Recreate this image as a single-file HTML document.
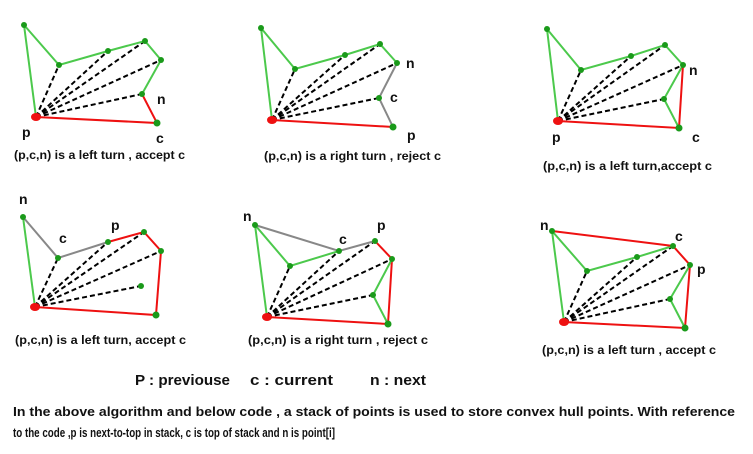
<!DOCTYPE html>
<html><head><meta charset="utf-8"><style>
html,body{margin:0;padding:0;background:#fff;}
svg{display:block;}
text{font-family:"Liberation Sans",sans-serif;font-weight:bold;fill:#111;}
.g{stroke:#4cc94c;stroke-width:2;fill:none;}
.r{stroke:#ee1111;stroke-width:2;fill:none;}
.y{stroke:#888;stroke-width:2;fill:none;}
.d{stroke:#000;stroke-width:2;stroke-dasharray:5,3;}
.pt{fill:#1a9a1a;}
.P{fill:#ee1111;}
</style></head><body>
<svg width="753" height="454" viewBox="0 0 753 454" xmlns="http://www.w3.org/2000/svg">
<!-- Panel 1 -->
<g>
<line class="d" x1="36" y1="117" x2="59" y2="65"/><line class="d" x1="36" y1="117" x2="108" y2="51"/><line class="d" x1="36" y1="117" x2="145" y2="41"/><line class="d" x1="36" y1="117" x2="161" y2="60"/><line class="d" x1="36" y1="117" x2="142" y2="94"/>
<polyline class="g" points="36,117 24,25 59,65 108,51 145,41 161,60 142,94"/>
<polyline class="r" points="142,94 157,123 36,117"/>
<circle class="pt" cx="24" cy="25" r="3"/><circle class="pt" cx="59" cy="65" r="3"/><circle class="pt" cx="108" cy="51" r="3"/><circle class="pt" cx="145" cy="41" r="3"/><circle class="pt" cx="161" cy="60" r="3"/><circle class="pt" cx="142" cy="94" r="3"/><circle class="pt" cx="157" cy="123" r="3.5"/><ellipse class="P" cx="36" cy="117" rx="5" ry="4"/>
<text x="157" y="104" font-size="14">n</text><text x="22" y="137" font-size="14">p</text><text x="156" y="143" font-size="14">c</text>
<text x="14" y="159" font-size="12" textLength="171" lengthAdjust="spacingAndGlyphs">(p,c,n) is a left turn , accept c</text>
</g>
<!-- Panel 2 -->
<g>
<line class="d" x1="272" y1="120" x2="295" y2="69"/><line class="d" x1="272" y1="120" x2="345" y2="55"/><line class="d" x1="272" y1="120" x2="380" y2="44"/><line class="d" x1="272" y1="120" x2="397" y2="63"/><line class="d" x1="272" y1="120" x2="379" y2="98"/>
<polyline class="g" points="272,120 261,28 295,69 345,55 380,44 397,63"/>
<polyline class="y" points="397,63 379,98 393,127"/>
<line class="r" x1="393" y1="127" x2="272" y2="120"/>
<circle class="pt" cx="261" cy="28" r="3"/><circle class="pt" cx="295" cy="69" r="3"/><circle class="pt" cx="345" cy="55" r="3"/><circle class="pt" cx="380" cy="44" r="3"/><circle class="pt" cx="397" cy="63" r="3"/><circle class="pt" cx="379" cy="98" r="3"/><circle class="pt" cx="393" cy="127" r="3.5"/><ellipse class="P" cx="272" cy="120" rx="5" ry="4"/>
<text x="406" y="68" font-size="14">n</text><text x="390" y="102" font-size="14">c</text><text x="407" y="140" font-size="14">p</text>
<text x="264" y="160" font-size="12" textLength="177" lengthAdjust="spacingAndGlyphs">(p,c,n) is a right turn , reject c</text>
</g>
<!-- Panel 3 -->
<g>
<line class="d" x1="558" y1="121" x2="581" y2="70"/><line class="d" x1="558" y1="121" x2="631" y2="56"/><line class="d" x1="558" y1="121" x2="665" y2="45"/><line class="d" x1="558" y1="121" x2="683" y2="65"/><line class="d" x1="558" y1="121" x2="664" y2="99"/>
<polyline class="g" points="558,121 547,29 581,70 631,56 665,45 683,65 664,99 679,128"/>
<polyline class="r" points="683,65 679,128 558,121"/>
<circle class="pt" cx="547" cy="29" r="3"/><circle class="pt" cx="581" cy="70" r="3"/><circle class="pt" cx="631" cy="56" r="3"/><circle class="pt" cx="665" cy="45" r="3"/><circle class="pt" cx="683" cy="65" r="3"/><circle class="pt" cx="664" cy="99" r="3"/><circle class="pt" cx="679" cy="128" r="3.5"/><ellipse class="P" cx="558" cy="121" rx="5" ry="4"/>
<text x="689" y="75" font-size="14">n</text><text x="552" y="142" font-size="14">p</text><text x="692" y="142" font-size="14">c</text>
<text x="543" y="170" font-size="12" textLength="169" lengthAdjust="spacingAndGlyphs">(p,c,n) is a left turn,accept c</text>
</g>
<!-- Panel 4 -->
<g>
<line class="d" x1="35" y1="307" x2="58" y2="258"/><line class="d" x1="35" y1="307" x2="108" y2="242"/><line class="d" x1="35" y1="307" x2="144" y2="232"/><line class="d" x1="35" y1="307" x2="161" y2="251"/><line class="d" x1="35" y1="307" x2="141" y2="286"/>
<line class="g" x1="35" y1="307" x2="23" y2="217"/>
<polyline class="y" points="23,217 58,258 108,242"/>
<polyline class="r" points="108,242 144,232 161,251 156,315 35,307"/>
<circle class="pt" cx="23" cy="217" r="3"/><circle class="pt" cx="58" cy="258" r="3"/><circle class="pt" cx="108" cy="242" r="3"/><circle class="pt" cx="144" cy="232" r="3"/><circle class="pt" cx="161" cy="251" r="3"/><circle class="pt" cx="141" cy="286" r="3"/><circle class="pt" cx="156" cy="315" r="3.5"/><ellipse class="P" cx="35" cy="307" rx="5" ry="4"/>
<text x="19" y="204" font-size="14">n</text><text x="59" y="243" font-size="14">c</text><text x="111" y="230" font-size="14">p</text>
<text x="15" y="344" font-size="12" textLength="171" lengthAdjust="spacingAndGlyphs">(p,c,n) is a left turn, accept c</text>
</g>
<!-- Panel 5 -->
<g>
<line class="d" x1="267" y1="317" x2="290" y2="266"/><line class="d" x1="267" y1="317" x2="339" y2="251"/><line class="d" x1="267" y1="317" x2="375" y2="241"/><line class="d" x1="267" y1="317" x2="392" y2="259"/><line class="d" x1="267" y1="317" x2="373" y2="295"/>
<polyline class="g" points="267,317 255,225 290,266 339,251"/>
<polyline class="y" points="255,225 339,251 375,241"/>
<polyline class="r" points="375,241 392,259 388,324 267,317"/>
<polyline class="g" points="392,259 373,295 388,324"/>
<circle class="pt" cx="255" cy="225" r="3"/><circle class="pt" cx="290" cy="266" r="3"/><circle class="pt" cx="339" cy="251" r="3"/><circle class="pt" cx="375" cy="241" r="3"/><circle class="pt" cx="392" cy="259" r="3"/><circle class="pt" cx="373" cy="295" r="3"/><circle class="pt" cx="388" cy="324" r="3.5"/><ellipse class="P" cx="267" cy="317" rx="5" ry="4"/>
<text x="243" y="221" font-size="14">n</text><text x="339" y="244" font-size="14">c</text><text x="377" y="230" font-size="14">p</text>
<text x="248" y="344" font-size="12" textLength="180" lengthAdjust="spacingAndGlyphs">(p,c,n) is a right turn , reject c</text>
</g>
<!-- Panel 6 -->
<g>
<line class="d" x1="564" y1="322" x2="587" y2="271"/><line class="d" x1="564" y1="322" x2="637" y2="257"/><line class="d" x1="564" y1="322" x2="673" y2="246"/><line class="d" x1="564" y1="322" x2="690" y2="265"/><line class="d" x1="564" y1="322" x2="670" y2="299"/>
<polyline class="g" points="564,322 552,231 587,271 637,257 673,246"/>
<polyline class="g" points="690,265 670,299 685,328"/>
<polyline class="r" points="552,231 673,246 690,265 685,328 564,322"/>
<circle class="pt" cx="552" cy="231" r="3"/><circle class="pt" cx="587" cy="271" r="3"/><circle class="pt" cx="637" cy="257" r="3"/><circle class="pt" cx="673" cy="246" r="3"/><circle class="pt" cx="690" cy="265" r="3"/><circle class="pt" cx="670" cy="299" r="3"/><circle class="pt" cx="685" cy="328" r="3.5"/><ellipse class="P" cx="564" cy="322" rx="5" ry="4"/>
<text x="540" y="230" font-size="14">n</text><text x="675" y="241" font-size="14">c</text><text x="697" y="274" font-size="14">p</text>
<text x="542" y="354" font-size="12" textLength="174" lengthAdjust="spacingAndGlyphs">(p,c,n) is a left turn , accept c</text>
</g>
<!-- Legend -->
<text x="135" y="385" font-size="15" textLength="95" lengthAdjust="spacingAndGlyphs">P : previouse</text>
<text x="250" y="385" font-size="15" textLength="83" lengthAdjust="spacingAndGlyphs">c : current</text>
<text x="370" y="385" font-size="15" textLength="56" lengthAdjust="spacingAndGlyphs">n : next</text>
<text x="13" y="416" font-size="13" textLength="722" lengthAdjust="spacingAndGlyphs">In the above algorithm and below code , a stack of points is used to store convex hull points. With reference</text>
<text x="13" y="437" font-size="13" textLength="322" lengthAdjust="spacingAndGlyphs">to the code ,p is  next-to-top in stack, c is top of stack and n is point[i]</text>
</svg>
</body></html>
